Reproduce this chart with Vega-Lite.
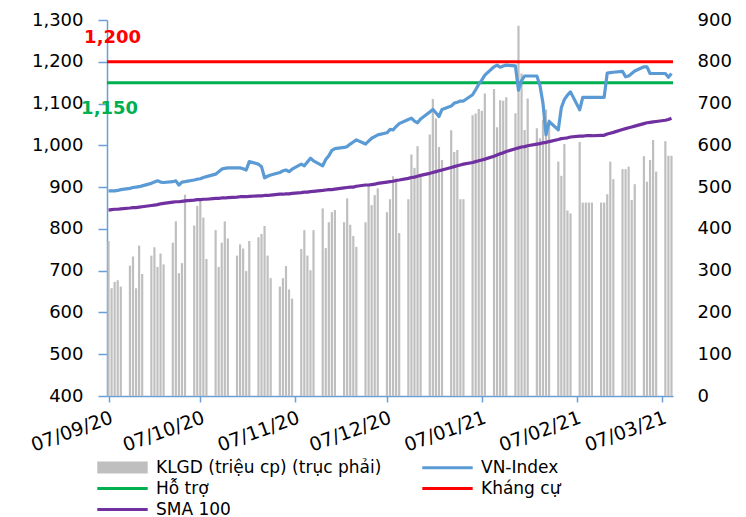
{
  "$schema": "https://vega.github.io/schema/vega-lite/v6.json",
  "width": 566,
  "height": 376,
  "autosize": {"type": "none"},
  "padding": {"left": 107, "top": 20, "right": 73, "bottom": 121},
  "background": "white",
  "config": {
    "view": {"stroke": null},
    "font": "DejaVu Sans",
    "axis": {"grid": false, "labelFont": "DejaVu Sans", "labelColor": "#000000"},
    "legend": {"labelFont": "DejaVu Sans", "labelFontSize": 17, "labelColor": "#000000", "padding": 0, "title": null, "labelLimit": 400}
  },
  "datasets": {
    "daily": [
      {"date": "2020-09-07", "VN-Index": 891, "SMA 100": 845, "vol": 371},
      {"date": "2020-09-08", "VN-Index": 891, "SMA 100": 846, "vol": 258},
      {"date": "2020-09-09", "VN-Index": 891, "SMA 100": 847, "vol": 273},
      {"date": "2020-09-10", "VN-Index": 892, "SMA 100": 847, "vol": 277},
      {"date": "2020-09-11", "VN-Index": 894, "SMA 100": 848, "vol": 262},
      {"date": "2020-09-14", "VN-Index": 897, "SMA 100": 850, "vol": 312},
      {"date": "2020-09-15", "VN-Index": 899, "SMA 100": 851, "vol": 334},
      {"date": "2020-09-16", "VN-Index": 900, "SMA 100": 851, "vol": 258},
      {"date": "2020-09-17", "VN-Index": 901, "SMA 100": 852, "vol": 360},
      {"date": "2020-09-18", "VN-Index": 903, "SMA 100": 853, "vol": 292},
      {"date": "2020-09-21", "VN-Index": 909, "SMA 100": 856, "vol": 336},
      {"date": "2020-09-22", "VN-Index": 912, "SMA 100": 857, "vol": 356},
      {"date": "2020-09-23", "VN-Index": 915, "SMA 100": 858, "vol": 309},
      {"date": "2020-09-24", "VN-Index": 912, "SMA 100": 860, "vol": 341},
      {"date": "2020-09-25", "VN-Index": 911, "SMA 100": 861, "vol": 315},
      {"date": "2020-09-28", "VN-Index": 913, "SMA 100": 864, "vol": 367},
      {"date": "2020-09-29", "VN-Index": 915, "SMA 100": 865, "vol": 418},
      {"date": "2020-09-30", "VN-Index": 905, "SMA 100": 865, "vol": 294},
      {"date": "2020-10-01", "VN-Index": 912, "SMA 100": 866, "vol": 318},
      {"date": "2020-10-02", "VN-Index": 913, "SMA 100": 867, "vol": 482},
      {"date": "2020-10-05", "VN-Index": 917, "SMA 100": 869, "vol": 408},
      {"date": "2020-10-06", "VN-Index": 919, "SMA 100": 870, "vol": 455},
      {"date": "2020-10-07", "VN-Index": 920, "SMA 100": 870, "vol": 472},
      {"date": "2020-10-08", "VN-Index": 923, "SMA 100": 871, "vol": 427},
      {"date": "2020-10-09", "VN-Index": 925, "SMA 100": 871, "vol": 328},
      {"date": "2020-10-12", "VN-Index": 931, "SMA 100": 873, "vol": 397},
      {"date": "2020-10-13", "VN-Index": 937, "SMA 100": 873, "vol": 309},
      {"date": "2020-10-14", "VN-Index": 943, "SMA 100": 874, "vol": 367},
      {"date": "2020-10-15", "VN-Index": 945, "SMA 100": 874, "vol": 418},
      {"date": "2020-10-16", "VN-Index": 946, "SMA 100": 875, "vol": 377},
      {"date": "2020-10-19", "VN-Index": 946, "SMA 100": 876, "vol": 336},
      {"date": "2020-10-20", "VN-Index": 946, "SMA 100": 877, "vol": 363},
      {"date": "2020-10-21", "VN-Index": 944, "SMA 100": 877, "vol": 353},
      {"date": "2020-10-22", "VN-Index": 941, "SMA 100": 877, "vol": 299},
      {"date": "2020-10-23", "VN-Index": 961, "SMA 100": 878, "vol": 371},
      {"date": "2020-10-26", "VN-Index": 955, "SMA 100": 879, "vol": 380},
      {"date": "2020-10-27", "VN-Index": 949, "SMA 100": 879, "vol": 388},
      {"date": "2020-10-28", "VN-Index": 922, "SMA 100": 880, "vol": 407},
      {"date": "2020-10-29", "VN-Index": 926, "SMA 100": 880, "vol": 336},
      {"date": "2020-10-30", "VN-Index": 929, "SMA 100": 881, "vol": 282},
      {"date": "2020-11-02", "VN-Index": 935, "SMA 100": 883, "vol": 262},
      {"date": "2020-11-03", "VN-Index": 939, "SMA 100": 883, "vol": 282},
      {"date": "2020-11-04", "VN-Index": 941, "SMA 100": 884, "vol": 311},
      {"date": "2020-11-05", "VN-Index": 937, "SMA 100": 884, "vol": 255},
      {"date": "2020-11-06", "VN-Index": 943, "SMA 100": 885, "vol": 233},
      {"date": "2020-11-09", "VN-Index": 955, "SMA 100": 887, "vol": 352},
      {"date": "2020-11-10", "VN-Index": 951, "SMA 100": 888, "vol": 397},
      {"date": "2020-11-11", "VN-Index": 960, "SMA 100": 888, "vol": 336},
      {"date": "2020-11-12", "VN-Index": 969, "SMA 100": 889, "vol": 301},
      {"date": "2020-11-13", "VN-Index": 963, "SMA 100": 890, "vol": 397},
      {"date": "2020-11-16", "VN-Index": 951, "SMA 100": 892, "vol": 449},
      {"date": "2020-11-17", "VN-Index": 966, "SMA 100": 893, "vol": 354},
      {"date": "2020-11-18", "VN-Index": 975, "SMA 100": 894, "vol": 416},
      {"date": "2020-11-19", "VN-Index": 988, "SMA 100": 894, "vol": 440},
      {"date": "2020-11-20", "VN-Index": 992, "SMA 100": 895, "vol": 445},
      {"date": "2020-11-23", "VN-Index": 995, "SMA 100": 898, "vol": 416},
      {"date": "2020-11-24", "VN-Index": 997, "SMA 100": 899, "vol": 473},
      {"date": "2020-11-25", "VN-Index": 1003, "SMA 100": 900, "vol": 410},
      {"date": "2020-11-26", "VN-Index": 1008, "SMA 100": 900, "vol": 383},
      {"date": "2020-11-27", "VN-Index": 1013, "SMA 100": 902, "vol": 357},
      {"date": "2020-11-30", "VN-Index": 1003, "SMA 100": 905, "vol": 416},
      {"date": "2020-12-01", "VN-Index": 1010, "SMA 100": 905, "vol": 505},
      {"date": "2020-12-02", "VN-Index": 1017, "SMA 100": 906, "vol": 457},
      {"date": "2020-12-03", "VN-Index": 1021, "SMA 100": 907, "vol": 481},
      {"date": "2020-12-04", "VN-Index": 1025, "SMA 100": 909, "vol": 497},
      {"date": "2020-12-07", "VN-Index": 1030, "SMA 100": 912, "vol": 440},
      {"date": "2020-12-08", "VN-Index": 1038, "SMA 100": 913, "vol": 471},
      {"date": "2020-12-09", "VN-Index": 1037, "SMA 100": 914, "vol": 526},
      {"date": "2020-12-10", "VN-Index": 1045, "SMA 100": 916, "vol": 520},
      {"date": "2020-12-11", "VN-Index": 1052, "SMA 100": 917, "vol": 390},
      {"date": "2020-12-14", "VN-Index": 1062, "SMA 100": 921, "vol": 471},
      {"date": "2020-12-15", "VN-Index": 1065, "SMA 100": 923, "vol": 578},
      {"date": "2020-12-16", "VN-Index": 1058, "SMA 100": 924, "vol": 546},
      {"date": "2020-12-17", "VN-Index": 1054, "SMA 100": 926, "vol": 598},
      {"date": "2020-12-18", "VN-Index": 1063, "SMA 100": 928, "vol": 528},
      {"date": "2020-12-21", "VN-Index": 1080, "SMA 100": 933, "vol": 626},
      {"date": "2020-12-22", "VN-Index": 1086, "SMA 100": 935, "vol": 711},
      {"date": "2020-12-23", "VN-Index": 1078, "SMA 100": 937, "vol": 664},
      {"date": "2020-12-24", "VN-Index": 1069, "SMA 100": 939, "vol": 596},
      {"date": "2020-12-25", "VN-Index": 1086, "SMA 100": 941, "vol": 565},
      {"date": "2020-12-28", "VN-Index": 1094, "SMA 100": 947, "vol": 636},
      {"date": "2020-12-29", "VN-Index": 1101, "SMA 100": 949, "vol": 584},
      {"date": "2020-12-30", "VN-Index": 1103, "SMA 100": 951, "vol": 589},
      {"date": "2020-12-31", "VN-Index": 1106, "SMA 100": 953, "vol": 471},
      {"date": "2021-01-01", "VN-Index": 1106, "SMA 100": 955, "vol": 471},
      {"date": "2021-01-04", "VN-Index": 1121, "SMA 100": 959, "vol": 672},
      {"date": "2021-01-05", "VN-Index": 1133, "SMA 100": 961, "vol": 676},
      {"date": "2021-01-06", "VN-Index": 1146, "SMA 100": 963, "vol": 687},
      {"date": "2021-01-07", "VN-Index": 1156, "SMA 100": 965, "vol": 683},
      {"date": "2021-01-08", "VN-Index": 1168, "SMA 100": 967, "vol": 724},
      {"date": "2021-01-11", "VN-Index": 1188, "SMA 100": 974, "vol": 735},
      {"date": "2021-01-12", "VN-Index": 1192, "SMA 100": 977, "vol": 643},
      {"date": "2021-01-13", "VN-Index": 1187, "SMA 100": 980, "vol": 708},
      {"date": "2021-01-14", "VN-Index": 1190, "SMA 100": 982, "vol": 707},
      {"date": "2021-01-15", "VN-Index": 1192, "SMA 100": 985, "vol": 715},
      {"date": "2021-01-18", "VN-Index": 1190, "SMA 100": 992, "vol": 677},
      {"date": "2021-01-19", "VN-Index": 1132, "SMA 100": 994, "vol": 886},
      {"date": "2021-01-20", "VN-Index": 1155, "SMA 100": 996, "vol": 772},
      {"date": "2021-01-21", "VN-Index": 1166, "SMA 100": 997, "vol": 637},
      {"date": "2021-01-22", "VN-Index": 1166, "SMA 100": 999, "vol": 712},
      {"date": "2021-01-25", "VN-Index": 1166, "SMA 100": 1003, "vol": 641},
      {"date": "2021-01-26", "VN-Index": 1144, "SMA 100": 1004, "vol": 617},
      {"date": "2021-01-27", "VN-Index": 1101, "SMA 100": 1006, "vol": 661},
      {"date": "2021-01-28", "VN-Index": 1025, "SMA 100": 1007, "vol": 686},
      {"date": "2021-01-29", "VN-Index": 1057, "SMA 100": 1009, "vol": 662},
      {"date": "2021-02-01", "VN-Index": 1037, "SMA 100": 1014, "vol": 561},
      {"date": "2021-02-02", "VN-Index": 1090, "SMA 100": 1016, "vol": 527},
      {"date": "2021-02-03", "VN-Index": 1110, "SMA 100": 1017, "vol": 603},
      {"date": "2021-02-04", "VN-Index": 1120, "SMA 100": 1018, "vol": 444},
      {"date": "2021-02-05", "VN-Index": 1128, "SMA 100": 1020, "vol": 437},
      {"date": "2021-02-08", "VN-Index": 1085, "SMA 100": 1022, "vol": 608},
      {"date": "2021-02-09", "VN-Index": 1115, "SMA 100": 1022, "vol": 463},
      {"date": "2021-02-10", "VN-Index": 1115, "SMA 100": 1023, "vol": 463},
      {"date": "2021-02-11", "VN-Index": 1115, "SMA 100": 1023, "vol": 463},
      {"date": "2021-02-12", "VN-Index": 1115, "SMA 100": 1023, "vol": 463},
      {"date": "2021-02-15", "VN-Index": 1115, "SMA 100": 1024, "vol": 463},
      {"date": "2021-02-16", "VN-Index": 1115, "SMA 100": 1024, "vol": 463},
      {"date": "2021-02-17", "VN-Index": 1173, "SMA 100": 1027, "vol": 483},
      {"date": "2021-02-18", "VN-Index": 1174, "SMA 100": 1029, "vol": 561},
      {"date": "2021-02-19", "VN-Index": 1175, "SMA 100": 1031, "vol": 519},
      {"date": "2021-02-22", "VN-Index": 1177, "SMA 100": 1038, "vol": 543},
      {"date": "2021-02-23", "VN-Index": 1164, "SMA 100": 1040, "vol": 543},
      {"date": "2021-02-24", "VN-Index": 1166, "SMA 100": 1042, "vol": 549},
      {"date": "2021-02-25", "VN-Index": 1172, "SMA 100": 1044, "vol": 469},
      {"date": "2021-02-26", "VN-Index": 1178, "SMA 100": 1046, "vol": 507},
      {"date": "2021-03-01", "VN-Index": 1188, "SMA 100": 1052, "vol": 574},
      {"date": "2021-03-02", "VN-Index": 1188, "SMA 100": 1054, "vol": 513},
      {"date": "2021-03-03", "VN-Index": 1172, "SMA 100": 1055, "vol": 565},
      {"date": "2021-03-04", "VN-Index": 1172, "SMA 100": 1056, "vol": 613},
      {"date": "2021-03-05", "VN-Index": 1172, "SMA 100": 1057, "vol": 537},
      {"date": "2021-03-08", "VN-Index": 1172, "SMA 100": 1060, "vol": 610},
      {"date": "2021-03-09", "VN-Index": 1163, "SMA 100": 1062, "vol": 575},
      {"date": "2021-03-10", "VN-Index": 1172, "SMA 100": 1065, "vol": 575}
    ],
    "levels": [
      {"series": "Hỗ trợ", "value": 1150},
      {"series": "Kháng cự", "value": 1200}
    ],
    "labels": [
      {"date": "2020-09-08", "value": 1200, "text": "1,200"},
      {"date": "2020-09-08", "value": 1150, "text": "1,150"}
    ]
  },
  "layer": [
    {
      "data": {"name": "daily"},
      "mark": {"type": "bar", "width": 2.2},
      "encoding": {
        "x": {
          "field": "date", "type": "temporal",
          "scale": {"type": "utc", "nice": false, "padding": 0, "domain": [{"year": 2020, "month": 9, "date": 6, "hours": 12, "utc": true}, {"year": 2021, "month": 3, "date": 10, "hours": 12, "utc": true}]},
          "axis": {
            "title": null,
            "values": [
              {"year": 2020, "month": 9, "date": 7, "utc": true},
              {"year": 2020, "month": 10, "date": 7, "utc": true},
              {"year": 2020, "month": 11, "date": 7, "utc": true},
              {"year": 2020, "month": 12, "date": 7, "utc": true},
              {"year": 2021, "month": 1, "date": 7, "utc": true},
              {"year": 2021, "month": 2, "date": 7, "utc": true},
              {"year": 2021, "month": 3, "date": 7, "utc": true}
            ],
            "format": "%d/%m/%y",
            "domainColor": "#6A9FD8", "domainWidth": 1.5,
            "tickColor": "#6A9FD8", "tickWidth": 1.5, "tickSize": 6,
            "labelAngle": -20, "labelAlign": "right", "labelBaseline": "top",
            "labelPadding": 6, "labelFontSize": 19, "labelOverlap": false, "labelFlush": false
          }
        },
        "y": {
          "field": "vol", "type": "quantitative",
          "scale": {"domain": [0, 900], "nice": false, "zero": true},
          "axis": {
            "orient": "right", "title": null,
            "values": [0, 100, 200, 300, 400, 500, 600, 700, 800, 900],
            "format": ".0f",
            "domain": false, "ticks": false,
            "labelAlign": "left", "labelPadding": 24, "labelFontSize": 18
          }
        },
        "fill": {
          "datum": "KLGD (triệu cp) (trục phải)",
          "scale": {"range": ["#BFBFBF"]},
          "legend": {
            "orient": "none", "legendX": 7, "legendY": 439,
            "symbolType": "M-4.2,-1H4.2V1H-4.2Z", "symbolSize": 144,
            "symbolStrokeWidth": 0,
            "labelOffset": 25
          }
        }
      }
    },
    {
      "encoding": {
        "y": {
          "field": "value", "type": "quantitative",
          "scale": {"domain": [400, 1300], "nice": false, "zero": false},
          "axis": {
            "orient": "left", "title": null,
            "values": [400, 500, 600, 700, 800, 900, 1000, 1100, 1200, 1300],
            "format": ",.0f",
            "domainColor": "#6A9FD8", "domainWidth": 1.5,
            "tickColor": "#6A9FD8", "tickWidth": 1.5, "tickSize": 9,
            "labelPadding": 15, "labelFontSize": 18
          }
        }
      },
      "layer": [
        {
          "data": {"name": "levels"},
          "mark": {"type": "rule", "strokeWidth": 3},
          "encoding": {
            "stroke": {
              "field": "series", "type": "nominal",
              "scale": {"domain": [" ", "VN-Index", "Hỗ trợ", "Kháng cự", "SMA 100"], "range": ["rgba(0,0,0,0)", "#5B9BD5", "#00B050", "#FF0000", "#7030A0"]},
              "legend": {
                "orient": "none", "legendX": 7, "legendY": 439,
                "direction": "horizontal",
                "columns": 2, "columnPadding": 185, "rowPadding": 3,
                "symbolType": "M-4.2,0H4.2", "symbolSize": 144, "symbolStrokeWidth": 3,
                "labelOffset": 25
              }
            }
          }
        },
        {
          "data": {"name": "daily"},
          "transform": [{"fold": ["VN-Index", "SMA 100"], "as": ["series", "value"]}],
          "mark": {"type": "line", "strokeWidth": 3.2, "strokeJoin": "round"},
          "encoding": {
            "x": {"field": "date", "type": "temporal", "scale": {"type": "utc", "nice": false, "padding": 0, "domain": [{"year": 2020, "month": 9, "date": 6, "hours": 12, "utc": true}, {"year": 2021, "month": 3, "date": 10, "hours": 12, "utc": true}]}},
            "stroke": {
              "field": "series", "type": "nominal",
              "scale": {"domain": [" ", "VN-Index", "Hỗ trợ", "Kháng cự", "SMA 100"], "range": ["rgba(0,0,0,0)", "#5B9BD5", "#00B050", "#FF0000", "#7030A0"]},
              "legend": {
                "orient": "none", "legendX": 7, "legendY": 439,
                "direction": "horizontal",
                "columns": 2, "columnPadding": 185, "rowPadding": 3,
                "symbolType": "M-4.2,0H4.2", "symbolSize": 144, "symbolStrokeWidth": 3,
                "labelOffset": 25
              }
            }
          }
        },
        {
          "data": {"name": "labels"},
          "transform": [{"filter": "datum.text === '1,200'"}],
          "mark": {"type": "text", "color": "#FF0000", "fontWeight": "bold", "fontSize": 18, "dy": -24, "dx": 1, "font": "DejaVu Sans"},
          "encoding": {
            "x": {"field": "date", "type": "temporal", "scale": {"type": "utc", "nice": false, "padding": 0, "domain": [{"year": 2020, "month": 9, "date": 6, "hours": 12, "utc": true}, {"year": 2021, "month": 3, "date": 10, "hours": 12, "utc": true}]}},
            "text": {"field": "text", "type": "nominal"}
          }
        },
        {
          "data": {"name": "labels"},
          "transform": [{"filter": "datum.text === '1,150'"}],
          "mark": {"type": "text", "color": "#00B050", "fontWeight": "bold", "fontSize": 18, "dy": 26, "dx": -2, "font": "DejaVu Sans"},
          "encoding": {
            "x": {"field": "date", "type": "temporal", "scale": {"type": "utc", "nice": false, "padding": 0, "domain": [{"year": 2020, "month": 9, "date": 6, "hours": 12, "utc": true}, {"year": 2021, "month": 3, "date": 10, "hours": 12, "utc": true}]}},
            "text": {"field": "text", "type": "nominal"}
          }
        }
      ]
    }
  ],
  "resolve": {"scale": {"y": "independent"}, "axis": {"y": "independent"}}
}
